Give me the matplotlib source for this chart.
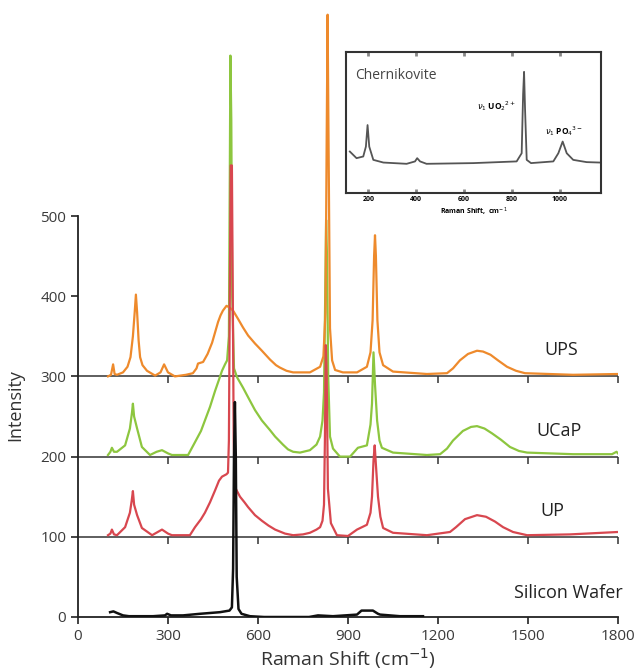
import matplotlib
matplotlib.use("Agg")
import matplotlib.pyplot as plt
import numpy as np

plt.rcParams['font.family'] = ['Open Sans', 'DejaVu Sans']

# ---------------- data (intensity above each trace's baseline) ----------------
offsets = [0, 100, 200, 300]
names = ["Silicon Wafer", "UP", "UCaP", "UPS"]
colors = ["#111111", "#d8474f", "#8dc63f", "#ee8a2c"]

si_x = [107, 118, 130, 150, 170, 250, 290, 297, 310, 350, 407, 473, 505, 513, 517, 520, 523, 526, 529, 535, 545, 573, 620, 770, 800, 850, 930, 945, 983, 1000, 1007, 1073, 1150]
si_y = [6, 7, 5, 2, 1, 1, 2, 4, 2, 2, 4, 6, 8, 12, 60, 200, 268, 200, 50, 10, 4, 1, 0, 0, 2, 1, 3, 8, 8, 4, 3, 1, 1]

up_x = [100, 108, 113, 120, 130, 157, 173, 179, 183, 187, 197, 213, 247, 280, 300, 313, 373, 390, 410, 423, 440, 457, 470, 480, 495, 500, 503, 506, 509, 513, 516, 519, 523, 540, 555, 567, 590, 613, 635, 657, 690, 717, 750, 773, 795, 807, 815, 820, 823, 826, 829, 833, 843, 863, 900, 930, 963, 975, 980, 985, 989, 993, 1000, 1008, 1017, 1050, 1163, 1240, 1260, 1290, 1330, 1360, 1390, 1417, 1450, 1497, 1640, 1800]
up_y = [2, 4, 9, 3, 2, 12, 30, 45, 57, 40, 27, 11, 2, 9, 4, 2, 2, 12, 22, 30, 43, 58, 70, 75, 78, 80, 120, 300, 463, 463, 300, 120, 62, 50, 43, 37, 27, 20, 14, 9, 4, 2, 3, 5, 9, 12, 20, 40, 120, 239, 200, 60, 17, 2, 1, 9, 15, 30, 50, 95, 114, 90, 50, 25, 11, 5, 2, 6, 12, 22, 27, 25, 19, 12, 6, 2, 3, 6]

ucap_x = [100, 108, 113, 120, 130, 157, 173, 180, 183, 187, 197, 213, 240, 262, 280, 300, 313, 367, 390, 410, 423, 440, 457, 470, 480, 490, 497, 503, 506, 508, 511, 514, 520, 530, 550, 567, 590, 613, 640, 657, 683, 700, 717, 740, 773, 795, 807, 815, 820, 824, 827, 830, 834, 840, 850, 873, 907, 933, 963, 975, 980, 985, 990, 997, 1005, 1013, 1050, 1163, 1207, 1230, 1250, 1283, 1310, 1330, 1355, 1380, 1410, 1440, 1470, 1497, 1650, 1780, 1795, 1800]
ucap_y = [2, 6, 11, 6, 6, 14, 35, 55, 66, 50, 35, 12, 2, 6, 8, 4, 2, 2, 18, 32, 45, 62, 82, 96, 107, 115, 120, 150, 350, 500, 420, 200, 110, 99, 86, 74, 58, 45, 33, 25, 15, 9, 6, 5, 8, 15, 25, 45, 80, 200, 295, 250, 100, 25, 10, 0, 0, 11, 14, 40, 66, 130, 90, 45, 20, 11, 5, 2, 3, 10, 20, 32, 37, 38, 35, 29, 21, 12, 7, 5, 3, 3, 6, 4]

ups_x = [100, 110, 117, 122, 130, 150, 165, 175, 183, 189, 193, 197, 202, 207, 215, 230, 257, 275, 287, 300, 323, 360, 383, 395, 400, 417, 432, 447, 457, 467, 475, 483, 495, 505, 517, 533, 550, 567, 590, 613, 640, 660, 673, 695, 717, 773, 807, 818, 825, 829, 832, 835, 840, 847, 857, 883, 930, 963, 975, 982, 987, 990, 993, 998, 1005, 1017, 1050, 1163, 1230, 1250, 1273, 1300, 1330, 1350, 1375, 1400, 1430, 1460, 1490, 1650, 1800]
ups_y = [0, 2, 15, 3, 2, 5, 12, 24, 50, 80, 102, 80, 45, 24, 14, 7, 1, 5, 15, 5, 0, 2, 4, 10, 16, 18, 28, 42, 55, 68, 76, 82, 88, 86, 82, 72, 61, 51, 41, 32, 21, 14, 11, 7, 5, 5, 12, 25, 80, 300, 451, 300, 60, 20, 8, 5, 5, 12, 30, 70, 150, 176, 150, 70, 30, 14, 6, 3, 4, 10, 20, 28, 32, 31, 27, 20, 12, 7, 4, 2, 3]

series_x = [si_x, up_x, ucap_x, ups_x]
series_y = [si_y, up_y, ucap_y, ups_y]

x_ticks = [0, 300, 600, 900, 1200, 1500, 1800]
y_ticks = [0, 100, 200, 300, 400, 500]

# inset (Chernikovite reference spectrum, relative units)
ch_x = [123, 151, 179, 190, 197, 204, 221, 263, 360, 395, 404, 416, 443, 638, 819, 840, 846, 850, 854, 861, 879, 972, 993, 1011, 1028, 1055, 1111, 1167]
ch_y = [29.4, 24.7, 25.9, 32.9, 48.2, 32.9, 23.5, 21.6, 20.7, 22.4, 24.7, 22.4, 20.7, 21.2, 22.4, 28.2, 70, 85.9, 60, 23.5, 21.2, 22.4, 28.2, 36.5, 28.2, 23.5, 21.9, 21.6]
ch_ticks = [200, 400, 600, 800, 1000]

# ---------------- figure ----------------
W, H = 639, 672
fig = plt.figure(figsize=(W / 100, H / 100), dpi=100)
ax = fig.add_axes([78 / W, 55 / H, 540 / W, 617 / H])
ax.set_xlim(0, 1800)
ax.set_ylim(0, 617 / 0.802)

for sp in ['top', 'right']:
    ax.spines[sp].set_visible(False)
ax.spines['left'].set_bounds(0, 500)
ax.spines['left'].set_linewidth(1.3)
ax.spines['bottom'].set_linewidth(1.3)
ax.spines['left'].set_color('#222222')
ax.spines['bottom'].set_color('#222222')

ax.set_xticks(x_ticks)
ax.set_yticks(y_ticks)
ax.tick_params(axis='both', direction='out', length=5, width=1.2, color='#222222',
               labelsize=11, labelcolor='#3a3a3a')

# baselines of the offset traces
for off in offsets[1:]:
    ax.plot([0, 1800], [off, off], color='#333333', lw=1.1, zorder=1)
    ax.plot(x_ticks[1:], [off] * (len(x_ticks) - 1), linestyle='none', marker=3,
            markersize=5, mew=1.1, color='#333333', zorder=1)

order = [2, 3, 1, 0]
for i in order:
    xs = np.array(series_x[i])
    ys = np.array(series_y[i]) + offsets[i]
    ax.plot(xs, ys, color=colors[i], lw=1.6 if i else 1.8, zorder=3 + order.index(i),
            solid_joinstyle='round')

label_pos = [(1635, 30), (1580, 132), (1605, 232), (1610, 333)]
for name, (lx, ly) in zip(names, label_pos):
    ax.text(lx, ly, name, ha='center', va='center', fontsize=13, color='#222222')

ax.set_xlabel("Raman Shift (cm$^{-1}$)", fontsize=14, color='#333333', labelpad=2)
ax.set_ylabel("Intensity", fontsize=13, color='#333333')
ax.yaxis.set_label_coords(-0.1, 264 / 769)

# ---------------- inset ----------------
ins = fig.add_axes([346 / W, (H - 193) / H, 255 / W, 141 / H])
ins.set_xlim(107, 1171)
ins.set_ylim(0, 100)
ins.plot(ch_x, ch_y, color='#555555', lw=1.3)
for sp in ins.spines.values():
    sp.set_linewidth(1.5)
    sp.set_color('#333333')
ins.set_xticks(ch_ticks)
ins.set_yticks([])
ins.tick_params(axis='x', direction='in', top=True, length=3, width=2, color='#888888',
                labelsize=5, pad=2)
for lab in ins.get_xticklabels():
    lab.set_fontweight('bold')
ins.set_xlabel("Raman Shift,  cm$^{-1}$", fontsize=5, fontweight='bold', labelpad=2)
ins.text(0.035, 0.83, "Chernikovite", transform=ins.transAxes, fontsize=10,
         color='#444444', ha='left', va='center')
ins.text(737, 62, r"$\nu_1$ UO$_2$$^{2+}$", fontsize=6, fontweight='bold', ha='center', va='center')
ins.text(1017, 44, r"$\nu_1$ PO$_4$$^{3-}$", fontsize=6, fontweight='bold', ha='center', va='center')

fig.savefig("out.png", dpi=100)
